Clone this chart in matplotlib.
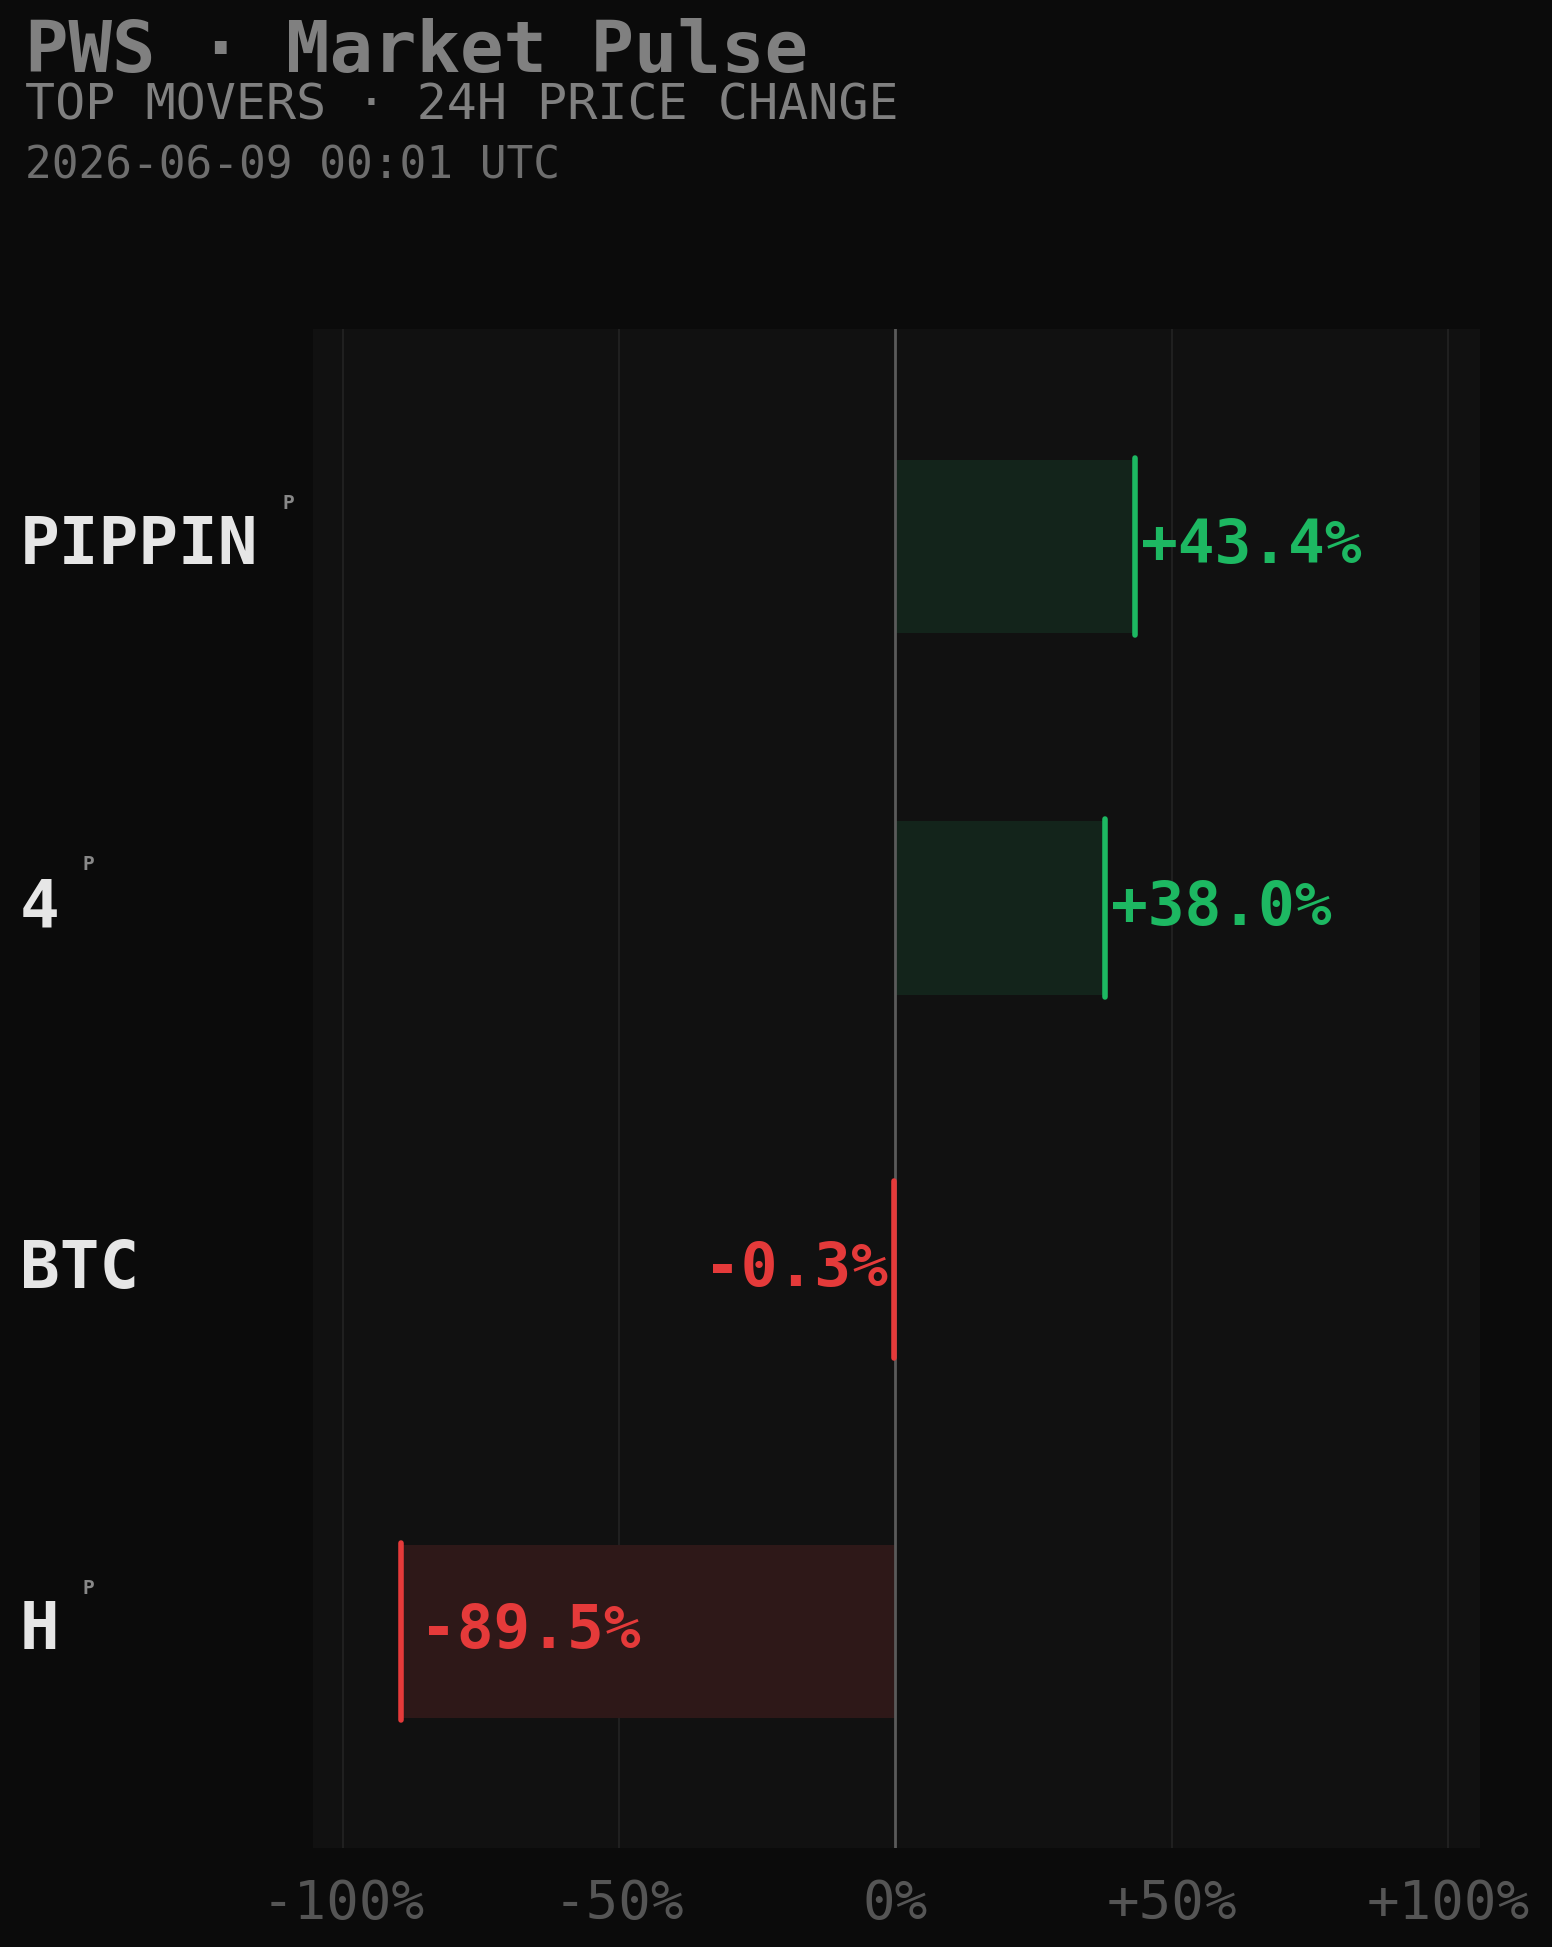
import numpy as np
import matplotlib.pyplot as plt
from matplotlib.transforms import blended_transform_factory

# Data
tickers = ["PIPPIN", "4", "BTC", "H"]
changes = [43.4, 38.0, -0.3, -89.5]
has_p = [True, True, False, True]
xticks = [-100, -50, 0, 50, 100]
xtick_labels = ["-100%", "-50%", "0%", "+50%", "+100%"]

GREEN = "#1db862"
RED = "#e53a3a"
MONO = "DejaVu Sans Mono"

fig = plt.figure(figsize=(15.52, 19.47), dpi=100, facecolor="#0b0b0b")
ax = fig.add_axes([0.2016, 0.051, 0.752, 0.780])
ax.set_facecolor("#111111")

y = np.arange(len(tickers))
for yi, v in zip(y, changes):
    up = v >= 0
    fill = "#13241b" if up else "#2e1818"
    col = GREEN if up else RED
    ax.barh(yi, v, height=0.48, color=fill, zorder=2)
    ax.plot([v, v], [yi - 0.245, yi + 0.245], color=col, lw=4,
            solid_capstyle="round", zorder=4)
    label = f"{v:+.1f}%"
    if up:
        ax.text(v + 1, yi, label, color=col, fontsize=44, fontweight="bold",
                family=MONO, va="center", ha="left", zorder=5)
    elif v < -50:
        ax.text(v + 3.5, yi, label, color=col, fontsize=44, fontweight="bold",
                family=MONO, va="center", ha="left", zorder=5)
    else:
        ax.text(v - 1, yi, label, color=col, fontsize=44, fontweight="bold",
                family=MONO, va="center", ha="right", zorder=5)

for t in [-100, -50, 50, 100]:
    ax.axvline(t, color="#242424", lw=1.2, zorder=1)
ax.axvline(0, color="#5a5a5a", lw=2, zorder=3)

ax.set_xlim(-105.4, 105.8)
ax.set_ylim(3.598, -0.601)
ax.set_yticks([])
ax.set_xticks(xticks)
ax.set_xticklabels(xtick_labels, family=MONO, fontsize=39, color="#555555")
ax.tick_params(axis="x", length=0, pad=22)
for s in ax.spines.values():
    s.set_visible(False)

trans = blended_transform_factory(fig.transFigure, ax.transData)
for yi, name, p in zip(y, tickers, has_p):
    ax.text(16 / 1250, yi, name, transform=trans, color="#e6e6e6", fontsize=47.5,
            fontweight="bold", family=MONO, va="center", ha="left")
    if p:
        px = (16 + len(name) * 32.2 + 18) / 1250
        ax.text(px, yi - 0.12, "P", transform=trans, color="#888888", fontsize=14,
                fontweight="bold", family=MONO, va="center", ha="left")

fig.text(20 / 1250, 1 - 42 / 1568, "PWS · Market Pulse", color="#808080", fontsize=52,
         fontweight="bold", family=MONO, va="center", ha="left")
fig.text(20 / 1250, 1 - 85 / 1568, "TOP MOVERS · 24H PRICE CHANGE", color="#808080",
         fontsize=36, family=MONO, va="center", ha="left")
fig.text(20 / 1250, 1 - 134 / 1568, "2026-06-09 00:01 UTC", color="#6e6e6e",
         fontsize=32, family=MONO, va="center", ha="left")

fig.savefig("out.png", dpi=100, facecolor=fig.get_facecolor())
